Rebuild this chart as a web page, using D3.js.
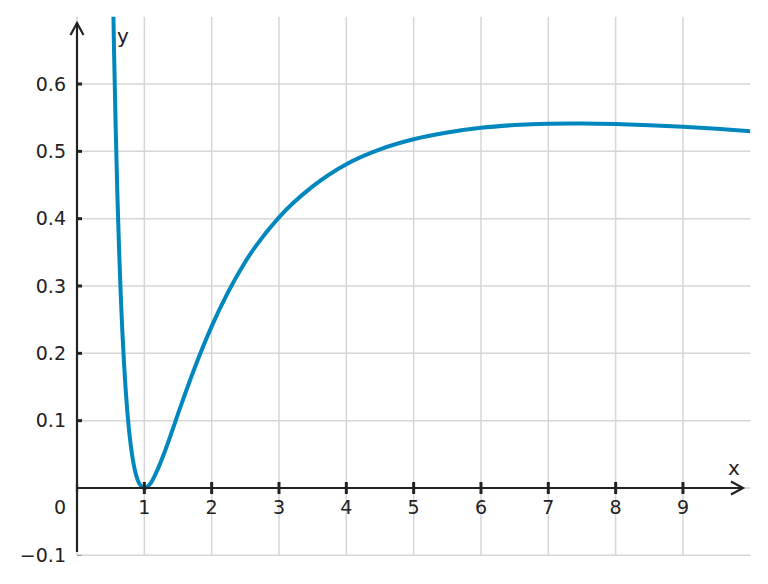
<!DOCTYPE html>
<html>
<head>
<meta charset="utf-8">
<script src="https://cdn.jsdelivr.net/npm/d3@7.9.0/dist/d3.min.js"></script>
<style>
  html, body { margin: 0; padding: 0; background: #fff; }
  svg { display: block; font-family: "DejaVu Sans", sans-serif; }
</style>
</head>
<body>
<svg id="chart" width="768" height="584"></svg>
<script>
// curve samples
const xs = [0.5, 0.52, 0.55, 0.575, 0.6, 0.625, 0.65, 0.7, 0.75, 0.8, 0.85, 0.9, 0.95, 1.0,
  1.1, 1.2, 1.3, 1.4, 1.5, 1.75, 2, 2.5, 3, 3.5, 4, 4.5, 5, 5.5, 6, 6.5, 7, 7.5, 8, 8.5, 9, 9.5, 10];
const ys = [0.961, 0.822, 0.650, 0.533, 0.435, 0.354, 0.286, 0.182, 0.110, 0.062, 0.031, 0.012, 0.003, 0,
  0.008, 0.028, 0.053, 0.081, 0.110, 0.179, 0.240, 0.336, 0.402, 0.448, 0.481, 0.503, 0.518, 0.528, 0.535, 0.539, 0.5409, 0.5413, 0.5405, 0.5388, 0.5365, 0.5335, 0.530];

const xTicks = [1, 2, 3, 4, 5, 6, 7, 8, 9];
const yTicks = [-0.1, 0.1, 0.2, 0.3, 0.4, 0.5, 0.6];
const xGrid = [0, 1, 2, 3, 4, 5, 6, 7, 8, 9];
const yGrid = [-0.1, 0, 0.1, 0.2, 0.3, 0.4, 0.5, 0.6];

const svg = d3.select('#chart');
const x = d3.scaleLinear().domain([0, 10]).range([77, 750.3]);
const y = d3.scaleLinear().domain([-0.1, 0.7]).range([555.3, 16.7]);
const ink = '#222';

svg.append('defs').append('clipPath').attr('id', 'plot')
  .append('rect')
  .attr('x', x(0)).attr('y', y(0.7))
  .attr('width', x(10) - x(0)).attr('height', y(-0.1) - y(0.7));

// grid
const grid = svg.append('g').attr('stroke', '#d6d6d6').attr('stroke-width', 1.5);
grid.selectAll('.v').data(xGrid).join('line')
  .attr('x1', d => x(d)).attr('x2', d => x(d))
  .attr('y1', y(0.7)).attr('y2', y(-0.1));
grid.selectAll('.h').data(yGrid).join('line')
  .attr('x1', x(0)).attr('x2', x(10))
  .attr('y1', d => y(d)).attr('y2', d => y(d));

// curve
const pts = xs.map((d, i) => [d, ys[i]]);
const line = d3.line().x(d => x(d[0])).y(d => y(d[1])).curve(d3.curveMonotoneX);
svg.append('path')
  .attr('clip-path', 'url(#plot)')
  .attr('d', line(pts))
  .attr('fill', 'none')
  .attr('stroke', '#0087bd')
  .attr('stroke-width', 4);

// axes
const axes = svg.append('g').attr('stroke', ink).attr('stroke-width', 2.2).attr('fill', 'none');
axes.append('line').attr('x1', x(0)).attr('x2', 743).attr('y1', y(0)).attr('y2', y(0));
axes.append('line').attr('x1', x(0)).attr('x2', x(0)).attr('y1', 552).attr('y2', 23);
axes.append('path').attr('d', `M${x(0) - 6.5},${35} L${x(0)},${23} L${x(0) + 6.5},${35}`);
axes.append('path').attr('d', `M731,${y(0) - 6.5} L743,${y(0)} L731,${y(0) + 6.5}`);
axes.append('line').attr('x1', x(0)).attr('x2', x(0)).attr('y1', y(0) - 4).attr('y2', y(0) + 4);

// ticks
axes.selectAll('.xt').data(xTicks).join('line')
  .attr('stroke-width', 3)
  .attr('x1', d => x(d)).attr('x2', d => x(d))
  .attr('y1', y(0) - 6).attr('y2', y(0) + 6);
axes.selectAll('.yt').data(yTicks).join('line')
  .attr('stroke', d => d < 0 ? '#999' : ink)
  .attr('stroke-width', d => d < 0 ? 1 : 3)
  .attr('x1', x(0)).attr('x2', x(0) + 5)
  .attr('y1', d => y(d)).attr('y2', d => y(d));

// labels
const labels = svg.append('g').attr('fill', ink).attr('font-size', 19);
labels.selectAll('.xl').data(xTicks).join('text')
  .attr('x', d => x(d)).attr('y', 514)
  .attr('text-anchor', 'middle')
  .text(d => d);
labels.selectAll('.yl').data(yTicks).join('text')
  .attr('x', 66).attr('y', d => y(d)).attr('dy', '0.35em')
  .attr('text-anchor', 'end')
  .text(d => d3.format('.1f')(d).replace('-', '\u2212'));
labels.append('text').attr('x', 66).attr('y', 514).attr('text-anchor', 'end').text('0');
labels.append('text').attr('x', 117).attr('y', 43).attr('font-size', 20).text('y');
labels.append('text').attr('x', 728).attr('y', 475).attr('font-size', 20).text('x');
</script>
</body>
</html>
